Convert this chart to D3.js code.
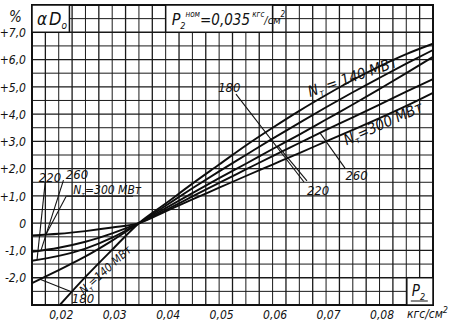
<!DOCTYPE html>
<html>
<head>
<meta charset="utf-8">
<script src="https://cdn.jsdelivr.net/npm/d3@7"></script>
<style>
  html, body { margin: 0; padding: 0; background: #fff; }
  svg { display: block; }
  text { font-family: "Liberation Sans Narrow", "DejaVu Sans Condensed", "Liberation Sans", sans-serif; font-style: italic; fill: #111; }
</style>
</head>
<body>
<svg id="chart" width="467" height="332"></svg>
<script>
// Pressure P2, kgf/cm^2
const p2Steep = [0.0202, 0.025, 0.03];               // left branch of the 140 MW curve
const p2Left  = [0.015, 0.02, 0.025, 0.03];
const p2Right = [0.035, 0.04, 0.045, 0.05, 0.055, 0.06, 0.065, 0.07, 0.075, 0.08, 0.085, 0.09];

// alpha D0, % — one array per turbine power N_T
const alpha140 = [-3.0, -1.97, -0.97, 0, 0.72, 1.45, 2.15, 2.85, 3.5, 4.12, 4.7, 5.25, 5.75, 6.2, 6.58];
const alpha180 = [-2.2, -1.72, -1.22, -0.64, 0, 0.64, 1.28, 1.9, 2.5, 3.1, 3.68, 4.25, 4.8, 5.33, 5.85, 6.35];
const alpha220 = [-1.38, -1.2, -0.93, -0.53, 0, 0.55, 1.1, 1.65, 2.18, 2.72, 3.25, 3.8, 4.35, 4.92, 5.5, 6.1];
const alpha260 = [-1.05, -0.9, -0.68, -0.37, 0, 0.48, 0.98, 1.48, 1.97, 2.46, 2.94, 3.42, 3.88, 4.35, 4.82, 5.28];
const alpha300 = [-0.45, -0.39, -0.29, -0.16, 0, 0.43, 0.87, 1.3, 1.73, 2.15, 2.57, 3.0, 3.42, 3.85, 4.3, 4.78];

const powers = [140, 180, 220, 260, 300];

// Axis ticks
const yTicks = [7, 6, 5, 4, 3, 2, 1, 0, -1, -2];
const xTicks = [0.02, 0.03, 0.04, 0.05, 0.06, 0.07, 0.08];

const series = [
  { n: 140, p2: p2Steep.concat(p2Right), a: alpha140 },
  { n: 180, p2: p2Left.concat(p2Right),  a: alpha180 },
  { n: 220, p2: p2Left.concat(p2Right),  a: alpha220 },
  { n: 260, p2: p2Left.concat(p2Right),  a: alpha260 },
  { n: 300, p2: p2Left.concat(p2Right),  a: alpha300 }
];
const byN = Object.fromEntries(series.map(s => [s.n, s]));

const svg = d3.select("#chart");
const x = d3.scaleLinear().domain([0.015, 0.09]).range([32, 433]);
const y = d3.scaleLinear().domain([-3, 8]).range([305, 5]);

// value of a curve at a given P2 (linear between the listed points)
function valueAt(n, p) {
  const s = byN[n];
  const i = Math.max(1, Math.min(s.p2.length - 1, d3.bisectLeft(s.p2, p)));
  const t = (p - s.p2[i - 1]) / (s.p2[i] - s.p2[i - 1]);
  return s.a[i - 1] + t * (s.a[i] - s.a[i - 1]);
}

// ---- grid paper ----
const grid = svg.append("g");
const nCols = 30, nRows = 22;
d3.range(nCols + 1).forEach(i => {
  const v = 0.015 + i * 0.0025;
  grid.append("line")
    .attr("x1", x(v)).attr("x2", x(v)).attr("y1", y(8)).attr("y2", y(-3))
    .attr("stroke", "#1a1a1a").attr("stroke-width", i % 2 === 1 ? 1.3 : 1);
});
d3.range(nRows + 1).forEach(i => {
  const v = -3 + i * 0.5;
  grid.append("line")
    .attr("x1", x(0.015)).attr("x2", x(0.09)).attr("y1", y(v)).attr("y2", y(v))
    .attr("stroke", "#1a1a1a").attr("stroke-width", Number.isInteger(v) ? 1.3 : 1);
});

// frame
svg.append("rect")
  .attr("x", x(0.015)).attr("y", y(8))
  .attr("width", x(0.09) - x(0.015)).attr("height", y(-3) - y(8))
  .attr("fill", "none").attr("stroke", "#111").attr("stroke-width", 2);

// ---- axes (labels only) ----
const fmtY = d => d === 0 ? "0" : (d > 0 ? "+" : "-") + Math.abs(d).toFixed(1).replace(".", ",");
const fmtX = d => d.toFixed(2).replace(".", ",");

const yAxis = svg.append("g")
  .attr("transform", `translate(${x(0.015) - 4},0)`)
  .call(d3.axisLeft(y).tickValues(yTicks).tickFormat(fmtY).tickSize(0).tickPadding(2));
yAxis.select(".domain").remove();
yAxis.selectAll("text").style("font-size", "12px").style("font-family", null).attr("dy", "0.35em");

const xAxis = svg.append("g")
  .attr("transform", `translate(2,${y(-3)})`)
  .call(d3.axisBottom(x).tickValues(xTicks).tickFormat(fmtX).tickSize(0).tickPadding(5));
xAxis.select(".domain").remove();
xAxis.selectAll("text").style("font-size", "12px").style("font-family", null);

svg.append("text").attr("x", 9).attr("y", 22).style("font-size", "15px").text("%");

svg.append("text").attr("x", x(0.09) - 26).attr("y", 318).style("font-size", "12px")
  .text("кгс/см").append("tspan").attr("dy", -5).style("font-size", "9px").text("2");

// ---- boxed captions ----
function box(x0, x1, v0, v1) {
  svg.append("rect")
    .attr("x", x(x0)).attr("y", y(v1)).attr("width", x(x1) - x(x0)).attr("height", y(v0) - y(v1))
    .attr("fill", "#fff").attr("stroke", "#111").attr("stroke-width", 1.5);
}
box(0.015, 0.022, 7, 8);
box(0.04, 0.06, 7, 8);
box(0.0851, 0.09, -3, -2);

const aD = svg.append("text").attr("x", x(0.015) + 5).attr("y", y(7) - 7).style("font-size", "17px");
aD.append("tspan").text("α");
aD.append("tspan").attr("dx", 2).style("font-size", "18px").text("D");
aD.append("tspan").attr("dy", 4).style("font-size", "10px").text("o");

const pn = svg.append("text").attr("x", x(0.04) + 6).attr("y", y(7) - 7).style("font-size", "16px");
pn.append("tspan").text("P");
pn.append("tspan").attr("dy", 4).style("font-size", "9px").text("2");
pn.append("tspan").attr("dy", -12).style("font-size", "8px").text("ном");
pn.append("tspan").attr("dy", 8).style("font-size", "15px").text("=0,035");
pn.append("tspan").attr("dy", -8).style("font-size", "8px").text(" кгс");
pn.append("tspan").attr("dy", 7).style("font-size", "11px").text("/см");
pn.append("tspan").attr("dy", -7).style("font-size", "8px").text("2");

const p2t = svg.append("text").attr("x", x(0.0851) + 5).attr("y", y(-3) - 9).style("font-size", "15px");
p2t.append("tspan").text("P");
p2t.append("tspan").attr("dy", 4).style("font-size", "9px").text("2");
svg.append("line").attr("x1", x(0.0851) + 4).attr("x2", x(0.0851) + 21)
  .attr("y1", y(-3) - 4).attr("y2", y(-3) - 4).attr("stroke", "#111").attr("stroke-width", 1);

// ---- curves ----
const line = d3.line().x(d => x(d[0])).y(d => y(d[1])).curve(d3.curveMonotoneX);
svg.append("g").selectAll("path").data(series).join("path")
  .attr("d", s => line(s.p2.map((p, i) => [p, s.a[i]])))
  .attr("fill", "none").attr("stroke", "#0d0d0d").attr("stroke-width", 1.9);

// ---- leader lines ----
// [from P2, from value, curve N or null, to P2, to value]
const leaders = [
  [0.05315, 4.73, null, 0.06587, 1.51],
  [0.06643, 1.55, 220, 0.06101, null],
  [0.07354, 2.02, 260, 0.06886, null],
  [0.01748, 1.52, 220, 0.01594, null],
  [0.02089, 1.58, 260, 0.01668, null],
  [0.02140, 0.99, 300, 0.01760, null],
  [0.02248, -2.52, 180, 0.01650, null]
];
svg.append("g").selectAll("line").data(leaders).join("line")
  .attr("x1", d => x(d[0])).attr("y1", d => y(d[1]))
  .attr("x2", d => x(d[3]))
  .attr("y2", d => y(d[2] === null ? d[4] : valueAt(d[2], d[3])))
  .attr("stroke", "#111").attr("stroke-width", 1.1);

// underline of the left 300 MW caption
svg.append("line").attr("x1", x(0.0214)).attr("x2", x(0.0339))
  .attr("y1", y(0.99)).attr("y2", y(0.99)).attr("stroke", "#111").attr("stroke-width", 1.1);

// ---- curve captions ----
function nLabel(g, p, v, angle, size, value, unit, gap) {
  const t = g.append("text")
    .attr("transform", `translate(${x(p)},${y(v)}) rotate(${angle})`)
    .style("font-size", size + "px");
  t.append("tspan").text("N");
  t.append("tspan").attr("dy", 3).style("font-size", (size * 0.6) + "px").text("т");
  t.append("tspan").attr("dy", -3).text((gap ? " = " : "=") + value + " " + unit);
}
const cap = svg.append("g");
nLabel(cap, 0.0670, 4.63, -19, 15, powers[0], "МВт", true);
nLabel(cap, 0.0738, 2.85, -24, 15, powers[4], "МВт", false);
nLabel(cap, 0.0227, 1.08, 0, 12, powers[4], "МВт", false);
nLabel(cap, 0.0247, -2.62, -42, 11.5, powers[0], "МВт", false);

const nums = [
  [0.0519, 4.81, powers[1]],
  [0.0685, 1.03, powers[2]],
  [0.0757, 1.58, powers[3]],
  [0.01837, 1.52, powers[2]],
  [0.02342, 1.62, powers[3]],
  [0.02454, -2.93, powers[1]]
];
cap.selectAll("text.num").data(nums).join("text").attr("class", "num")
  .attr("x", d => x(d[0])).attr("y", d => y(d[1]))
  .attr("text-anchor", "middle").style("font-size", "13px")
  .text(d => d[2]);
</script>
</body>
</html>
